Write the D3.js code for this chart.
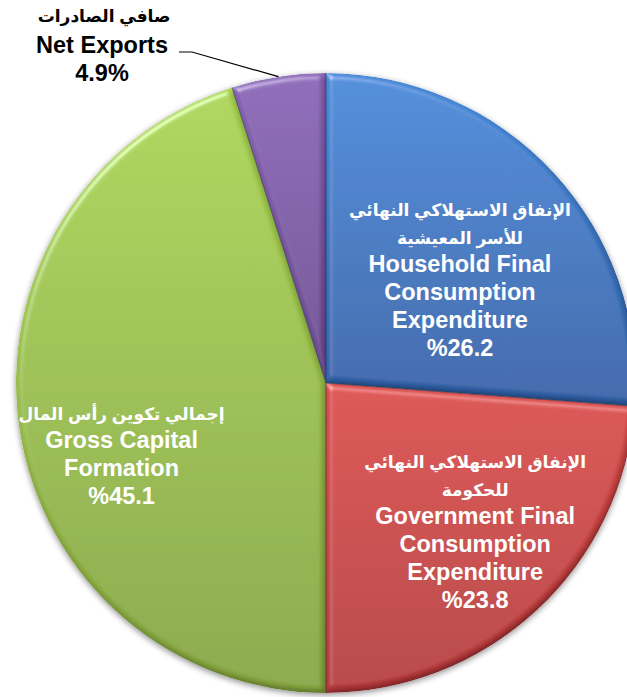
<!DOCTYPE html>
<html>
<head>
<meta charset="utf-8">
<script src="https://cdn.jsdelivr.net/npm/d3@7"></script>
<style>
  html, body { margin: 0; padding: 0; background: #ffffff; }
  svg { display: block; }
  text { font-family: "Liberation Sans", Arial, "DejaVu Sans", sans-serif; font-weight: bold; }
</style>
</head>
<body>
<svg id="chart" width="627" height="697"></svg>
<script>
// GDP by expenditure component, share of total (%)
const categories = [
  "Household Final Consumption Expenditure",
  "Government Final Consumption Expenditure",
  "Gross Capital Formation",
  "Net Exports"
];
const shares = [26.2, 23.8, 45.1, 4.9];
const arabicLines = [
  ["الإنفاق الاستهلاكي النهائي", "للأسر المعيشية"],
  ["الإنفاق الاستهلاكي النهائي", "للحكومة"],
  ["إجمالي تكوين رأس المال"],
  ["صافي الصادرات"]
];
const englishLines = [
  ["Household Final", "Consumption", "Expenditure"],
  ["Government Final", "Consumption", "Expenditure"],
  ["Gross Capital", "Formation"],
  ["Net Exports"]
];

// slice shading: light (top) and dark (bottom) stop for each category
const topColors = ["#4689d8", "#da4c49", "#aad353", "#8a64b6"];
const bottomColors = ["#3060a6", "#b3383a", "#85a53f", "#6a4a90"];

const W = 627, H = 697;
const cx = 326, cy = 383, R = 310;
const lineStep = 28;
const latinSize = 23.5, arabicSize = 17;

const svg = d3.select("#chart");
const defs = svg.append("defs");

// soft shadow under the whole pie
const shadow = defs.append("filter").attr("id", "pieShadow")
  .attr("x", "-10%").attr("y", "-10%").attr("width", "120%").attr("height", "120%");
shadow.append("feGaussianBlur").attr("in", "SourceAlpha").attr("stdDeviation", 3).attr("result", "b");
shadow.append("feOffset").attr("in", "b").attr("dx", 0).attr("dy", 2).attr("result", "o");
shadow.append("feComponentTransfer").attr("in", "o").attr("result", "s")
  .append("feFuncA").attr("type", "linear").attr("slope", 0.45);
const sm = shadow.append("feMerge");
sm.append("feMergeNode").attr("in", "s");
sm.append("feMergeNode").attr("in", "SourceGraphic");

// bevel on each slice: diffuse shading darkens edges away from the light,
// specular adds a rim highlight on edges facing it
const bevel = defs.append("filter").attr("id", "bevel")
  .attr("x", "-5%").attr("y", "-5%").attr("width", "110%").attr("height", "110%");
bevel.append("feGaussianBlur").attr("in", "SourceAlpha").attr("stdDeviation", 3).attr("result", "blur");
bevel.append("feDiffuseLighting").attr("in", "blur").attr("surfaceScale", 3)
  .attr("diffuseConstant", 1.155).attr("lighting-color", "#ffffff").attr("result", "diff")
  .append("feDistantLight").attr("azimuth", 235).attr("elevation", 60);
bevel.append("feSpecularLighting").attr("in", "blur").attr("surfaceScale", 3)
  .attr("specularConstant", 0.7).attr("specularExponent", 40).attr("lighting-color", "#ffffff").attr("result", "spec")
  .append("feDistantLight").attr("azimuth", 235).attr("elevation", 50);
bevel.append("feComposite").attr("in", "SourceGraphic").attr("in2", "diff")
  .attr("operator", "arithmetic").attr("k1", 1).attr("k2", 0).attr("k3", 0).attr("k4", 0).attr("result", "shaded");
bevel.append("feComposite").attr("in", "spec").attr("in2", "SourceAlpha").attr("operator", "in").attr("result", "specIn");
bevel.append("feComposite").attr("in", "shaded").attr("in2", "specIn")
  .attr("operator", "arithmetic").attr("k1", 0).attr("k2", 1).attr("k3", 0.55).attr("k4", 0).attr("result", "lit");
bevel.append("feComposite").attr("in", "lit").attr("in2", "SourceAlpha").attr("operator", "in");

categories.forEach((c, i) => {
  const g = defs.append("linearGradient").attr("id", "grad" + i)
    .attr("x1", 0).attr("y1", 0).attr("x2", 0).attr("y2", 1);
  g.append("stop").attr("offset", "0%").attr("stop-color", topColors[i]);
  g.append("stop").attr("offset", "100%").attr("stop-color", bottomColors[i]);
});

const pie = d3.pie().sort(null).value(d => d)
  .startAngle(0).endAngle(2 * Math.PI);
const arcs = pie(shares);
const arc = d3.arc().innerRadius(0).outerRadius(R);

const root = svg.append("g").attr("transform", `translate(${cx},${cy})`);
const pieG = root.append("g").attr("filter", "url(#pieShadow)");

pieG.selectAll("path.slice")
  .data(arcs)
  .join("path")
  .attr("class", "slice")
  .attr("d", arc)
  .attr("fill", (d, i) => `url(#grad${i})`)
  .attr("filter", "url(#bevel)");

// thin seams between slices
pieG.selectAll("line.seam")
  .data(arcs)
  .join("line")
  .attr("class", "seam")
  .attr("x1", 0).attr("y1", 0)
  .attr("x2", d => R * Math.sin(d.startAngle))
  .attr("y2", d => -R * Math.cos(d.startAngle))
  .attr("stroke", "#1e2a40").attr("stroke-opacity", 0.55).attr("stroke-width", 1);

// one centred line of label text
function addLine(sel, x, y, str, size, fill) {
  sel.append("text")
    .attr("x", x).attr("y", y)
    .attr("text-anchor", "middle")
    .attr("font-size", size)
    .attr("fill", fill)
    .text(str);
}

// inside labels: radius along the mid-angle, then a nudge
const labelRadius = [180, 215, 215];
const labelNudge = [[2, 25], [3, -3], [8, 46]];

[0, 1, 2].forEach(i => {
  const la = d3.arc().innerRadius(labelRadius[i]).outerRadius(labelRadius[i]);
  const [px, py] = la.centroid(arcs[i]);
  const x = px + labelNudge[i][0], y = py + labelNudge[i][1];
  const nAr = arabicLines[i].length;
  const lines = arabicLines[i].concat(englishLines[i], ["%" + shares[i].toFixed(1)]);
  const n = lines.length;
  const g = root.append("g");
  lines.forEach((s, k) => {
    addLine(g, x, y + (k - (n - 1) / 2) * lineStep, s, k < nAr ? arabicSize : latinSize, "#ffffff");
  });
});

// Net Exports: label outside with a leader to the rim
{
  const i = 3;
  const outer = d3.arc().innerRadius(R).outerRadius(R);
  const [ex, ey] = outer.centroid(arcs[i]);
  const lx = 102 - cx;
  const g = root.append("g");
  addLine(g, lx + 2, 22 - cy, arabicLines[i][0], arabicSize, "#000000");
  addLine(g, lx, 53 - cy, englishLines[i][0], latinSize, "#000000");
  addLine(g, lx, 81 - cy, shares[i].toFixed(1) + "%", latinSize, "#000000");

  const startX = 179 - cx, startY = 52 - cy;
  root.append("path")
    .attr("d", d3.line()([[startX, startY], [startX + 13, startY], [ex, ey]]))
    .attr("fill", "none")
    .attr("stroke", "#000000")
    .attr("stroke-width", 1.2);
}
</script>
</body>
</html>
